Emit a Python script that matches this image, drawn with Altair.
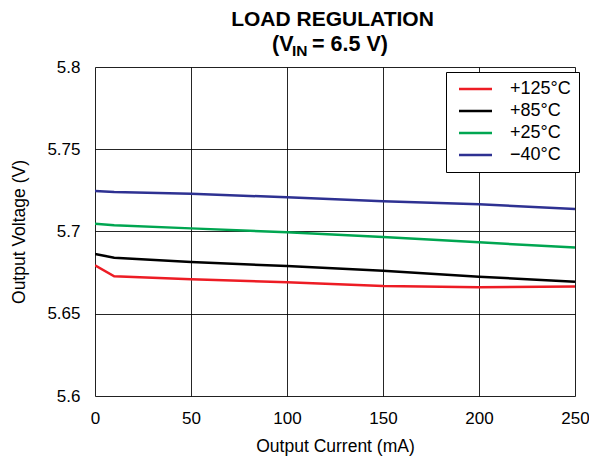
import altair as alt
import pandas as pd

current = [0, 10, 50, 100, 150, 200, 250]
v_125 = [5.6794, 5.6728, 5.6709, 5.6691, 5.6669, 5.6661, 5.6665]
v_85 = [5.6863, 5.6841, 5.6815, 5.6790, 5.6762, 5.6725, 5.6695]
v_25 = [5.7047, 5.7038, 5.7019, 5.6995, 5.6967, 5.6934, 5.6902]
v_m40 = [5.7246, 5.7240, 5.7229, 5.7208, 5.7184, 5.7165, 5.7137]

series_names = ["+125°C", "+85°C", "+25°C", "\u221240°C"]
series_vals = [v_125, v_85, v_25, v_m40]
series_colors = ["#ed1c24", "#000000", "#00a651", "#2e3192"]

x_ticks = [0, 50, 100, 150, 200, 250]
y_ticks = [5.6, 5.65, 5.7, 5.75, 5.8]

rows = []
for name, vals in zip(series_names, series_vals):
    for c, v in zip(current, vals):
        rows.append({"current": c, "voltage": v, "series": name})
df = pd.DataFrame(rows)

FONT = "Liberation Sans"

lines = alt.Chart(df).mark_line(strokeWidth=2.5, clip=True).encode(
    x=alt.X("current:Q", scale=alt.Scale(domain=[0, 250], nice=False),
            axis=alt.Axis(values=x_ticks, title="Output Current (mA)", grid=True,
                          gridColor="#000000", gridWidth=1, gridOpacity=0.85,
                          tickSize=0, labelPadding=14, domain=False,
                          labelFlush=False, labelOverlap=False,
                          labelFont=FONT, labelFontSize=17, labelColor="#000",
                          titleFont=FONT, titleFontSize=17.5, titleFontWeight="normal",
                          titleColor="#000", titlePadding=11)),
    y=alt.Y("voltage:Q", scale=alt.Scale(domain=[5.6, 5.8], nice=False, zero=False),
            axis=alt.Axis(values=y_ticks, format="~g", title="Output Voltage (V)",
                          grid=True, gridColor="#000000", gridWidth=1, gridOpacity=0.85,
                          tickSize=0, labelPadding=15, domain=False,
                          labelFlush=False, labelOverlap=False,
                          labelFont=FONT, labelFontSize=17, labelColor="#000",
                          titleFont=FONT, titleFontSize=17.5, titleFontWeight="normal",
                          titleColor="#000", titlePadding=18)),
    color=alt.Color("series:N", sort=series_names,
                    scale=alt.Scale(domain=series_names, range=series_colors),
                    legend=alt.Legend(title=None, orient="none", legendX=351, legendY=5,
                                      symbolType="M-1,0H7.25", symbolStrokeWidth=2.5,
                                      symbolSize=64, labelFont=FONT, labelFontSize=18,
                                      labelColor="#000", rowPadding=4, padding=8,
                                      strokeColor="#000", fillColor="#ffffff",
                                      labelOffset=38, labelLimit=200,
                                      offset=0)),
)

t1 = alt.Chart(pd.DataFrame({"t": ["LOAD REGULATION"]})).mark_text(
    font=FONT, fontSize=21, fontWeight="bold", align="center", baseline="alphabetic", color="#000"
).encode(text="t:N", x=alt.value(237.5), y=alt.value(-41))

t2a = alt.Chart(pd.DataFrame({"t": ["(V"]})).mark_text(
    font=FONT, fontSize=21.5, fontWeight="bold", align="left", baseline="alphabetic", color="#000"
).encode(text="t:N", x=alt.value(177), y=alt.value(-16))
t2b = alt.Chart(pd.DataFrame({"t": ["IN"]})).mark_text(
    font=FONT, fontSize=15.5, fontWeight="bold", align="left", baseline="alphabetic", color="#000"
).encode(text="t:N", x=alt.value(197), y=alt.value(-11))
t2c = alt.Chart(pd.DataFrame({"t": ["= 6.5 V)"]})).mark_text(
    font=FONT, fontSize=21.5, fontWeight="bold", align="left", baseline="alphabetic", color="#000"
).encode(text="t:N", x=alt.value(217), y=alt.value(-16))

chart = alt.layer(lines, t1, t2a, t2b, t2c).properties(
    width=480, height=329,
    autosize=alt.AutoSizeParams(type="none"),
    padding={"left": 87, "top": 59, "right": 14, "bottom": 60},
).configure_view(stroke="#000000", strokeWidth=2.5).configure(background="white")

chart.save("out.html", embed_options={"renderer": "svg", "actions": False})
